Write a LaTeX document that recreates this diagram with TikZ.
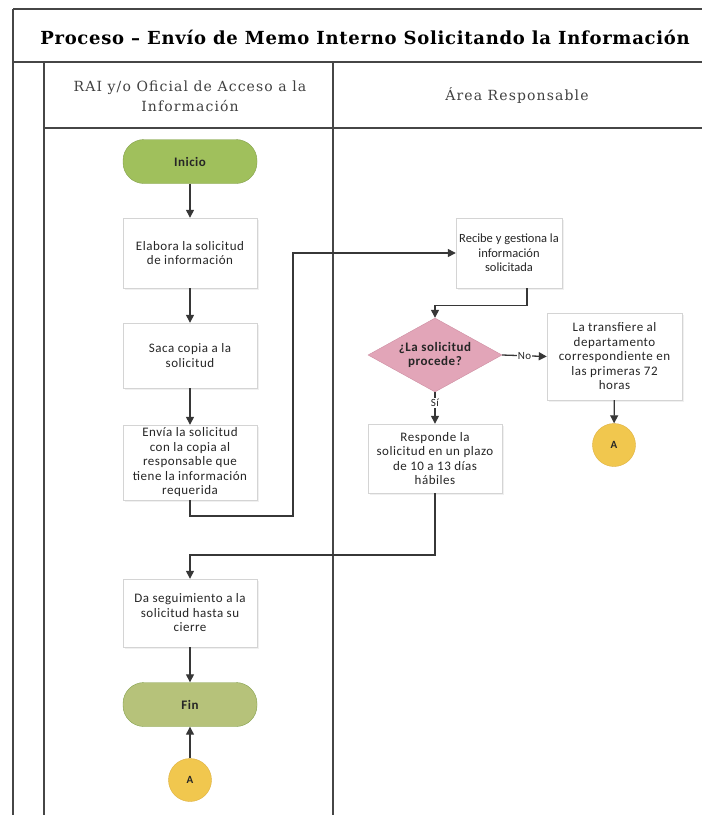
\documentclass[tikz,border=0pt]{standalone}
\usepackage{fontspec}
\usetikzlibrary{arrows.meta, shapes.geometric, shadows}
\newfontfamily\boxfont[LetterSpace = 4]{Carlito}
\newfontfamily\tightfont{Carlito}
\newfontfamily\headfont[LetterSpace = 8]{DejaVu Serif}
\newfontfamily\titlefont[LetterSpace = 4]{DejaVu Serif}
\definecolor{framegray}{RGB}{70,70,70}
\definecolor{boxgray}{RGB}{212,212,212}
\definecolor{startgreen}{RGB}{160,192,92}
\definecolor{endgreen}{RGB}{182,194,122}
\definecolor{pillline}{RGB}{132,160,76}
\definecolor{decpink}{RGB}{226,165,184}
\definecolor{decline}{RGB}{205,142,162}
\definecolor{connyellow}{RGB}{241,199,78}
\definecolor{connline}{RGB}{222,176,62}
\definecolor{arrowgray}{RGB}{55,55,55}

\begin{document}
\begin{tikzpicture}[x = 1pt, y = -1pt,
    every node/.style = {align = center, text = black!85, font = \boxfont\fontsize{13}{14.5}\selectfont},
    stepbox/.style = {draw = boxgray, fill = white, inner sep = 1pt, minimum width = 134pt,
        drop shadow = {opacity = 0.12, shadow xshift = 1.5pt, shadow yshift = -1.5pt}},
    pill/.style = {draw = pillline, rounded corners = 21pt, minimum width = 134pt, minimum height = 44pt,
        font = \boxfont\bfseries\fontsize{13}{14.5}\selectfont},
    decision/.style = {diamond, draw = decline, fill = decpink, aspect = 1.8, inner sep = 0pt,
        minimum width = 134pt, minimum height = 74pt, font = \boxfont\bfseries\fontsize{13}{14.5}\selectfont},
    connector/.style = {circle, draw = connline, fill = connyellow, minimum size = 43pt, inner sep = 0pt,
        font = \boxfont\bfseries\fontsize{11}{13}\selectfont},
    flow/.style = {draw = arrowgray, line width = 1.3pt, -{Triangle[length = 8pt, width = 8pt]}},
    flowlabel/.style = {fill = white, inner sep = 1pt, font = \boxfont\fontsize{11}{13}\selectfont},
    lane/.style = {draw = framegray, line width = 1.1pt}]
    \useasboundingbox (0,0) rectangle (702,815);
    \draw[lane] (13,9) -- (702,9);
    \draw[lane] (13,9) -- (13,815);
    \draw[lane] (13,62) -- (702,62);
    \draw[lane] (44,62) -- (44,815);
    \draw[lane] (44,128) -- (702,128);
    \draw[lane] (333,62) -- (333,815);
    \node[font = \titlefont\bfseries\fontsize{18}{20}\selectfont, text = black] (title) at (365,37)
        {Proceso – Envío de Memo Interno Solicitando la Información};
    \node[font = \headfont\fontsize{14}{20}\selectfont, text = black!75] (laneone) at (190,96)
        {RAI y/o Oficial de Acceso a la\\Información};
    \node[font = \headfont\fontsize{14}{20}\selectfont, text = black!75] (lanetwo) at (517,95)
        {Área Responsable};

    \node[pill, fill = startgreen] (ini) at (190,161.5) {Inicio};
    \node[stepbox, minimum height = 70pt] (elab) at (190,253) {Elabora la solicitud\\de información};
    \node[stepbox, minimum height = 65pt] (saca) at (190,355.5) {Saca copia a la\\solicitud};
    \node[stepbox, minimum height = 75pt] (envia) at (190,462.5)
        {Envía la solicitud\\con la copia al\\responsable que\\tiene la información\\requerida};
    \node[stepbox, minimum height = 68pt] (seg) at (190,613) {Da seguimiento a la\\solicitud hasta su\\cierre};
    \node[pill, fill = endgreen] (fin) at (190,704.5) {Fin};
    \node[connector] (aone) at (190,780) {A};

    \node[stepbox, minimum width = 106pt, minimum height = 70pt, font = \tightfont\fontsize{12.5}{14.5}\selectfont]
        (recibe) at (509,253) {Recibe y gestiona la\\información\\solicitada};
    \node[decision] (dec) at (435,355) {¿La solicitud\\procede?};
    \node[stepbox, minimum width = 135pt, minimum height = 87pt] (transf) at (614.5,356.5)
        {La transfiere al\\departamento\\correspondiente en\\las primeras 72\\horas};
    \node[connector] (atwo) at (614,445) {A};
    \node[stepbox, minimum height = 69pt] (resp) at (435,458.5)
        {Responde la\\solicitud en un plazo\\de 10 a 13 días\\hábiles};

    \coordinate (turnone) at (293,516);
    \coordinate (turntwo) at (435,555);

    \draw[flow] (ini) -- (elab);
    \draw[flow] (elab) -- (saca);
    \draw[flow] (saca) -- (envia);
    \draw[flow] (envia.south) |- (turnone) |- (recibe.west);
    \draw[flow] ([xshift = 18pt]recibe.south) -- ++(0,17) -| (dec.north);
    \draw[flow] (dec.east) -- node[flowlabel] {No} (transf.west);
    \draw[flow] (dec.south) -- node[flowlabel, pos = 0.35] {Sí} (resp.north);
    \draw[flow] (transf) -- (atwo);
    \draw[flow] (resp.south) -- (turntwo) -| (seg.north);
    \draw[flow] (seg) -- (fin);
    \draw[flow] (aone) -- (fin);
\end{tikzpicture}
\end{document}
